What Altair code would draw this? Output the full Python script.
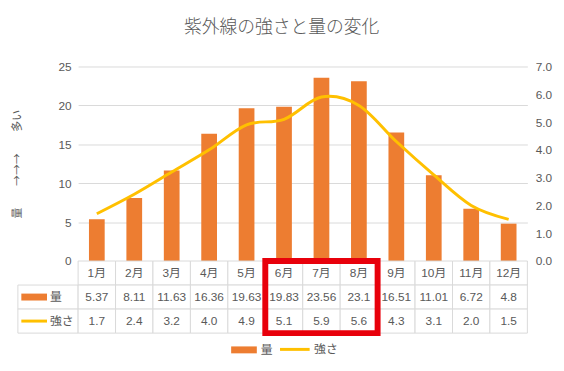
import altair as alt
import pandas as pd

# ---- data ----
months = ["1月", "2月", "3月", "4月", "5月", "6月", "7月", "8月", "9月", "10月", "11月", "12月"]
amount = [5.37, 8.11, 11.63, 16.36, 19.63, 19.83, 23.56, 23.1, 16.51, 11.01, 6.72, 4.8]
intensity = [1.7, 2.4, 3.2, 4.0, 4.9, 5.1, 5.9, 5.6, 4.3, 3.1, 2.0, 1.5]
series_names = ["量", "強さ"]
row_names = ["月", "量", "強さ"]
highlight = ["6月", "8月"]
left_ticks = [0, 5, 10, 15, 20, 25]
right_ticks = [0, 1, 2, 3, 4, 5, 6, 7]

ORANGE = "#ED7D31"
YELLOW = "#FFC000"
GRAY = "#595959"
GRID = "#D9D9D9"
RED = "#E8000B"
FONT = "Liberation Sans, Noto Sans CJK JP"
JFONT = "Noto Sans CJK JP"
RECT_PATH = "M-1,-0.27H1V0.27H-1Z"
LINE_PATH = "M-1,0H1"

df = pd.DataFrame({
    "month": months,
    "amount": amount,
    "intensity": intensity,
    "s_amount": series_names[0],
    "s_int": series_names[1],
})

# ---- main plot ----
x_top = alt.X("month:N", sort=months,
              scale=alt.Scale(paddingInner=0.58, paddingOuter=0.29), axis=None)

bars = alt.Chart(df).mark_bar().encode(
    x=x_top,
    y=alt.Y("amount:Q", scale=alt.Scale(domain=[0, 25]),
            axis=alt.Axis(orient="left", values=left_ticks, grid=True,
                          title="量　　→→→　　多い", titleFont=JFONT,
                          titleFontSize=11, titleFontWeight="normal",
                          titleColor=GRAY, titlePadding=36, labelPadding=7)),
    fill=alt.Fill("s_amount:N", scale=alt.Scale(domain=[series_names[0]], range=[ORANGE]),
                  legend=alt.Legend(title=None, orient="none", legendX=216, legendY=274,
                                    symbolType=RECT_PATH, symbolSize=676,
                                    symbolStrokeWidth=0, labelOffset=4)),
)

line = alt.Chart(df).mark_line(strokeWidth=3, interpolate="cardinal").encode(
    x=x_top,
    y=alt.Y("intensity:Q", scale=alt.Scale(domain=[0, 7]),
            axis=alt.Axis(orient="right", values=right_ticks, format=".1f",
                          grid=False, title=None, labelPadding=8)),
    stroke=alt.Stroke("s_int:N", scale=alt.Scale(domain=[series_names[1]], range=[YELLOW]),
                      legend=alt.Legend(title=None, orient="none", legendX=264, legendY=270,
                                        symbolType="stroke", symbolSize=900,
                                        symbolStrokeWidth=3, labelOffset=3)),
)

top = alt.layer(bars, line).resolve_scale(y="independent").properties(width=455, height=197)

# ---- data table ----
rows = []
for m, a, s in zip(months, amount, intensity):
    rows.append({"month": m, "row": row_names[0], "text": m})
    rows.append({"month": m, "row": row_names[1], "text": f"{a:g}"})
    rows.append({"month": m, "row": row_names[2], "text": f"{s:.1f}"})
df_t = pd.DataFrame(rows)

x_tab = alt.X("month:N", sort=months, scale=alt.Scale(paddingInner=0, paddingOuter=0), axis=None)
y_tab = alt.Y("row:N", sort=row_names, scale=alt.Scale(domain=row_names, paddingInner=0, paddingOuter=0), axis=None)

cells = alt.Chart(df_t).mark_rect(fill="white", stroke=GRID, strokeWidth=1).encode(x=x_tab, y=y_tab)
texts = alt.Chart(df_t).mark_text(font=FONT, fontSize=12, color=GRAY).encode(x=x_tab, y=y_tab, text="text:N")

df_h = pd.DataFrame({
    "start": [months.index(highlight[0])],
    "end": [months.index(highlight[1]) + 1],
    "r0": [0],
    "r1": [len(row_names)],
})
redbox = alt.Chart(df_h).mark_rect(filled=False, stroke=RED, strokeWidth=6).encode(
    x=alt.X("start:Q", scale=alt.Scale(domain=[0, len(months)]), axis=None),
    x2="end:Q",
    y=alt.Y("r0:Q", scale=alt.Scale(domain=[0, len(row_names)]), axis=None),
    y2="r1:Q",
)

table = alt.layer(alt.layer(cells, texts), redbox).resolve_scale(
    x="independent", y="independent").properties(width=455, height=73)

# ---- key column of table ----
df_k = pd.DataFrame({"row": series_names, "label": series_names})
y_key = alt.Y("row:N", scale=alt.Scale(domain=row_names, paddingInner=0, paddingOuter=0), axis=None)
key_cells = alt.Chart(df_k).mark_rect(fill="white", stroke=GRID, strokeWidth=1).encode(y=y_key)
key_labels = alt.Chart(df_k).mark_text(align="left", dx=2, font=JFONT, fontSize=12, color=GRAY).encode(
    y=y_key, text="label:N")
key_bar = alt.Chart(df_k).transform_filter(alt.datum.row == series_names[0]).mark_point(
    shape=RECT_PATH, size=676, filled=True, fill=ORANGE, strokeWidth=0, opacity=1, xOffset=-14
).encode(y=y_key)
key_line = alt.Chart(df_k).transform_filter(alt.datum.row == series_names[1]).mark_point(
    shape=LINE_PATH, size=676, filled=False, stroke=YELLOW, strokeWidth=3, opacity=1, xOffset=-14
).encode(y=y_key)
key = alt.layer(key_cells, key_labels, key_bar, key_line).properties(width=61, height=73)

blank = alt.Chart(pd.DataFrame({"v": [0]})).mark_text(text="").properties(width=61, height=197)

chart = alt.concat(
    blank, top, key, table, columns=2, spacing=0, bounds="flush", align="each"
).resolve_scale(x="independent", y="independent").properties(
    title=alt.TitleParams("紫外線の強さと量の変化", font=JFONT, fontSize=18, fontWeight=300,
                          color=GRAY, anchor="middle", offset=24),
    padding={"left": 3, "top": 9, "right": 4, "bottom": 2},
).configure_view(strokeWidth=0).configure_axis(
    domain=False, ticks=False, labelColor=GRAY, labelFont=FONT, labelFontSize=12,
    gridColor=GRID, gridWidth=1,
).configure_legend(
    labelFont=JFONT, labelFontSize=12, labelColor=GRAY, padding=0,
)

chart.save("out.html", embed_options={"renderer": "svg", "actions": False})
